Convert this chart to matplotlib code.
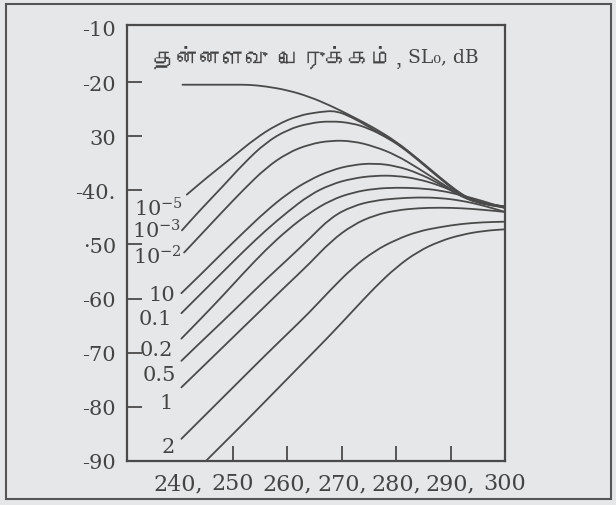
import matplotlib
matplotlib.use("Agg")
import matplotlib.pyplot as plt
from matplotlib import font_manager
from matplotlib.patches import Rectangle, PathPatch
from matplotlib.path import Path
from matplotlib.ticker import FixedLocator

# ---------------- data ----------------
env_x = [240.7, 245, 250, 253, 256, 260, 264, 268, 272, 276, 280, 284, 288, 291, 293, 295, 297.5, 300]
env_y = [-20.5, -20.5, -20.5, -20.5, -20.8, -21.5, -22.7, -24.4, -26.4, -28.5, -31.0, -34.2, -37.6, -40.0, -41.3, -42.1, -42.6, -43.0]

c5_x = [241.5, 245, 250, 254, 258, 262, 266, 269, 272, 275, 278, 280, 284, 288, 291, 293, 295, 297.5, 300]
c5_y = [-40.8, -37.8, -33.8, -30.5, -27.9, -26.2, -25.5, -25.3, -26.6, -28.3, -30.1, -31.1, -34.3, -37.7, -40.1, -41.4, -42.2, -42.7, -43.0]

c3_x = [240.6, 244, 248, 252, 256, 260, 264, 268, 272, 275, 278, 281, 284, 288, 291, 293, 295, 297.5, 300]
c3_y = [-47.4, -43.6, -39.4, -35.0, -31.2, -28.8, -27.6, -27.2, -27.6, -28.6, -30.1, -32.0, -34.4, -37.8, -40.2, -41.4, -42.2, -42.7, -43.0]

c2_x = [241, 244, 248, 252, 256, 260, 264, 268, 272, 276, 280, 284, 288, 291, 293, 295, 297.5, 300]
c2_y = [-51.5, -48.3, -44.0, -39.8, -35.9, -33.1, -31.5, -30.8, -30.9, -31.9, -33.5, -35.9, -38.5, -40.4, -41.5, -42.2, -42.7, -43.1]

c10_x = [240.5, 244, 248, 252, 256, 260, 264, 268, 272, 276, 280, 284, 288, 291, 293, 295, 297.5, 300]
c10_y = [-59.0, -55.6, -51.6, -47.7, -43.9, -40.6, -38.1, -36.3, -35.3, -35.0, -35.5, -36.8, -38.8, -40.6, -41.6, -42.3, -42.8, -43.1]

c01_x = [240.5, 244, 248, 252, 256, 260, 264, 268, 272, 276, 280, 284, 288, 291, 293, 295, 297.5, 300]
c01_y = [-62.7, -59.2, -55.2, -51.2, -47.4, -44.0, -40.9, -38.9, -37.8, -37.3, -37.3, -37.9, -39.1, -40.4, -41.3, -42.1, -42.8, -43.2]

c02_x = [240.5, 244, 248, 252, 256, 260, 264, 268, 272, 276, 280, 284, 288, 292, 296, 300]
c02_y = [-67.4, -63.8, -59.6, -55.2, -51.0, -47.3, -44.2, -41.8, -40.4, -39.7, -39.5, -39.6, -40.0, -40.9, -42.0, -43.3]

c05_x = [240.5, 244, 248, 252, 256, 260, 264, 268, 272, 276, 280, 284, 288, 292, 296, 300]
c05_y = [-71.5, -68.1, -64.3, -60.4, -56.5, -52.8, -49.0, -45.0, -42.9, -41.9, -41.5, -41.3, -41.4, -41.9, -42.8, -44.0]

c1_x = [240.5, 244, 248, 252, 256, 260, 264, 268, 272, 276, 280, 284, 288, 292, 296, 300]
c1_y = [-76.4, -73.0, -69.1, -65.2, -61.3, -57.4, -53.6, -49.4, -46.4, -44.6, -43.7, -43.3, -43.2, -43.3, -43.6, -44.0]

c2b_x = [240.5, 244, 248, 252, 256, 260, 264, 268, 272, 276, 280, 284, 288, 292, 296, 300]
c2b_y = [-85.9, -82.4, -78.4, -74.4, -70.4, -66.5, -62.6, -58.3, -54.3, -51.2, -49.1, -47.6, -46.8, -46.2, -45.9, -45.8]

bot_x = [245.1, 248, 252, 256, 260, 264, 268, 272, 276, 280, 284, 288, 292, 296, 300]
bot_y = [-89.9, -87.0, -83.0, -78.9, -74.8, -70.7, -66.6, -62.3, -58.0, -54.2, -51.3, -49.4, -48.2, -47.5, -47.2]

curve_labels = ["10$^{-5}$", "10$^{-3}$", "10$^{-2}$", "10", "0.1", "0.2", "0.5", "1", "2"]

xtick_values = [240, 250, 260, 270, 280, 290, 300]
xtick_labels = ["240,", "250", "260,", "270,", "280,", "290,", "300"]
xmark_values = [250, 260, 270, 280, 290]

ytick_values = [-10, -20, -30, -40, -50, -60, -70, -80, -90]
ytick_labels = ["-10", "-20", "30", "-40.", "\u00b750", "-60", "-70", "-80", "-90"]
ymark_values = [-20, -30, -40, -50, -60, -70, -80]

title_tamil = "தன்னளவு பெருக்கம்,"
title_latin = "SL\u2080, dB"

# ---------------- fonts ----------------
def font_with(ch):
    try:
        from matplotlib.ft2font import FT2Font
    except Exception:
        return None
    for f in font_manager.fontManager.ttflist:
        try:
            if ord(ch) in FT2Font(f.fname).get_charmap():
                return f.name
        except Exception:
            continue
    return None

tamil_font = font_with("த")
serif = ["DejaVu Serif", "DejaVu Sans"]
tamil_family = ([tamil_font] if tamil_font else []) + serif
plt.rcParams["mathtext.fontset"] = "dejavuserif"

BG = "#e5e7e8"
INK = "#4a4a4a"
TXT = "#444444"


def smooth_path(xs, ys):
    """Quadratic-Bezier path that uses the read points as control points."""
    pts = list(zip(xs, ys))
    verts = [pts[0]]
    codes = [Path.MOVETO]
    mids = [((pts[i][0] + pts[i + 1][0]) / 2, (pts[i][1] + pts[i + 1][1]) / 2) for i in range(len(pts) - 1)]
    verts.append(mids[0]); codes.append(Path.LINETO)
    for i in range(1, len(pts) - 1):
        verts += [pts[i], mids[i]]
        codes += [Path.CURVE3, Path.CURVE3]
    verts.append(pts[-1]); codes.append(Path.LINETO)
    return Path(verts, codes)


# ---------------- figure ----------------
fig = plt.figure(figsize=(6.16, 5.06), dpi=100, facecolor=BG)
ax = fig.add_axes([127 / 616, 1 - 462 / 506, (505 - 127) / 616, (462 - 26) / 506])
ax.set_facecolor(BG)

curves = [(env_x, env_y), (c5_x, c5_y), (c3_x, c3_y), (c2_x, c2_y), (c10_x, c10_y),
          (c01_x, c01_y), (c02_x, c02_y), (c05_x, c05_y), (c1_x, c1_y),
          (c2b_x, c2b_y), (bot_x, bot_y)]
for xs, ys in curves:
    ax.add_patch(PathPatch(smooth_path(xs, ys), facecolor="none", edgecolor=INK, lw=1.3,
                           capstyle="round", joinstyle="round", clip_on=False))

ax.set_xlim(230.5, 300)
ax.set_ylim(-90, -9.47)

for s in ax.spines.values():
    s.set_color(INK)
    s.set_linewidth(1.6)

ax.xaxis.remove_overlapping_locs = False
ax.yaxis.remove_overlapping_locs = False
ax.xaxis.set_major_locator(FixedLocator(xtick_values))
ax.set_xticklabels(xtick_labels, family=serif, fontsize=16, color=TXT)
ax.xaxis.set_minor_locator(FixedLocator(xmark_values))
ax.yaxis.set_major_locator(FixedLocator(ytick_values))
ax.set_yticklabels(ytick_labels, family=serif, fontsize=15, color=TXT)
ax.yaxis.set_minor_locator(FixedLocator(ymark_values))
ax.tick_params(which="major", length=0, pad=8)
ax.tick_params(which="minor", direction="in", length=11, width=1.3, color=INK)

# curve labels (right edge, centre) in data coords
label_pos = [(240.9, -43.2), (240.4, -47.3), (240.5, -52.1), (239.3, -59.3), (238.8, -63.6),
             (238.9, -69.4), (239.6, -74.0), (239.0, -79.2), (239.3, -87.4)]
for txt, (lx, ly) in zip(curve_labels, label_pos):
    ax.text(lx, ly, txt, ha="right", va="center", family=serif, fontsize=15, color=TXT)

# title inside the axes
t1 = ax.text(0.069, 0.929, title_tamil, transform=ax.transAxes, ha="left", va="center",
             family=tamil_family, fontsize=16.5, color=TXT)
ax.annotate(title_latin, xy=(1, 0.1), xycoords=t1, xytext=(2, 0), textcoords="offset points",
            ha="left", va="bottom", family=serif, fontsize=13.5, color=TXT)

# outer frame of the figure
fig.patches.append(Rectangle((6 / 616, 1 - 500 / 506), 605 / 616, 495 / 506,
                             transform=fig.transFigure, fill=False, edgecolor="#555555", lw=1.5))

fig.savefig("out.png", dpi=100, facecolor=BG)
